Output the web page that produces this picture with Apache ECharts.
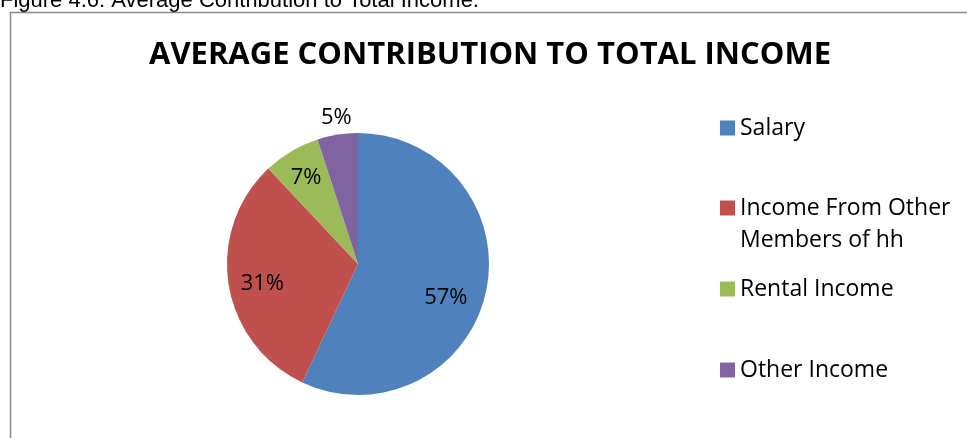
<!DOCTYPE html>
<html>
<head>
<meta charset="utf-8">
<script src="https://cdn.jsdelivr.net/npm/echarts@6/dist/echarts.min.js"></script>
<style>
  html, body { margin: 0; padding: 0; background: #ffffff; }
  #chart { width: 967px; height: 438px; }
</style>
</head>
<body>
<div id="chart"></div>
<script>
// ---- data ----
const categories = ['Salary', 'Income From Other Members of hh', 'Rental Income', 'Other Income'];
const legendLabels = ['Salary', '\u00a0\nIncome From Other\nMembers of hh', 'Rental Income', 'Other Income'];
const shares = [57, 31, 7, 5];
const chartTitle = 'AVERAGE CONTRIBUTION TO TOTAL INCOME';
const captionText = 'Figure 4.6: Average Contribution to Total Income.';

// ---- styling ----
const colors = ['#4F81BD', '#C0504D', '#9BBB59', '#8064A2'];
const labelOffsets = [[21, 19], [-28, 9], [-17, -27], [-11, -79]];
const legendTops = [112, 160, 273, 354];
const FONT = '"Open Sans", Lato, sans-serif';

const chart = echarts.init(document.getElementById('chart'), null, { renderer: 'canvas' });

const legends = categories.map((name, i) => ({
  data: [name],
  orient: 'vertical',
  left: 720,
  top: legendTops[i],
  padding: 0,
  itemWidth: 15,
  itemHeight: 15,
  icon: 'rect',
  selectedMode: false,
  formatter: () => legendLabels[i],
  textStyle: { fontFamily: FONT, fontSize: 23, color: '#000', lineHeight: 32 },
  itemGap: 0
}));

chart.setOption({
  animation: false,
  color: colors,
  title: {
    text: chartTitle,
    left: 149,
    top: 40,
    padding: 0,
    textStyle: { fontFamily: FONT, fontWeight: 'bold', fontSize: 31, color: '#000' }
  },
  graphic: [
    {
      type: 'rect',
      shape: { x: 10.5, y: 12.5, width: 1000, height: 500 },
      style: { fill: 'none', stroke: '#898989', lineWidth: 1.5 },
      silent: true
    },
    {
      type: 'text',
      x: 0,
      y: 1,
      style: {
        text: captionText,
        font: '22px "Liberation Sans", Arial, sans-serif',
        fill: '#000',
        verticalAlign: 'middle'
      },
      silent: true
    }
  ],
  legend: legends,
  series: [{
    type: 'pie',
    center: [358, 264],
    radius: 131,
    startAngle: 90,
    clockwise: true,
    avoidLabelOverlap: false,
    itemStyle: { borderWidth: 0 },
    emphasis: { disabled: true },
    label: {
      show: true,
      position: 'inside',
      fontFamily: FONT,
      fontSize: 22,
      color: '#000',
      formatter: p => p.value + '%'
    },
    labelLine: { show: false },
    data: categories.map((name, i) => ({
      name: name,
      value: shares[i],
      label: { offset: labelOffsets[i] }
    }))
  }]
});
</script>
</body>
</html>
